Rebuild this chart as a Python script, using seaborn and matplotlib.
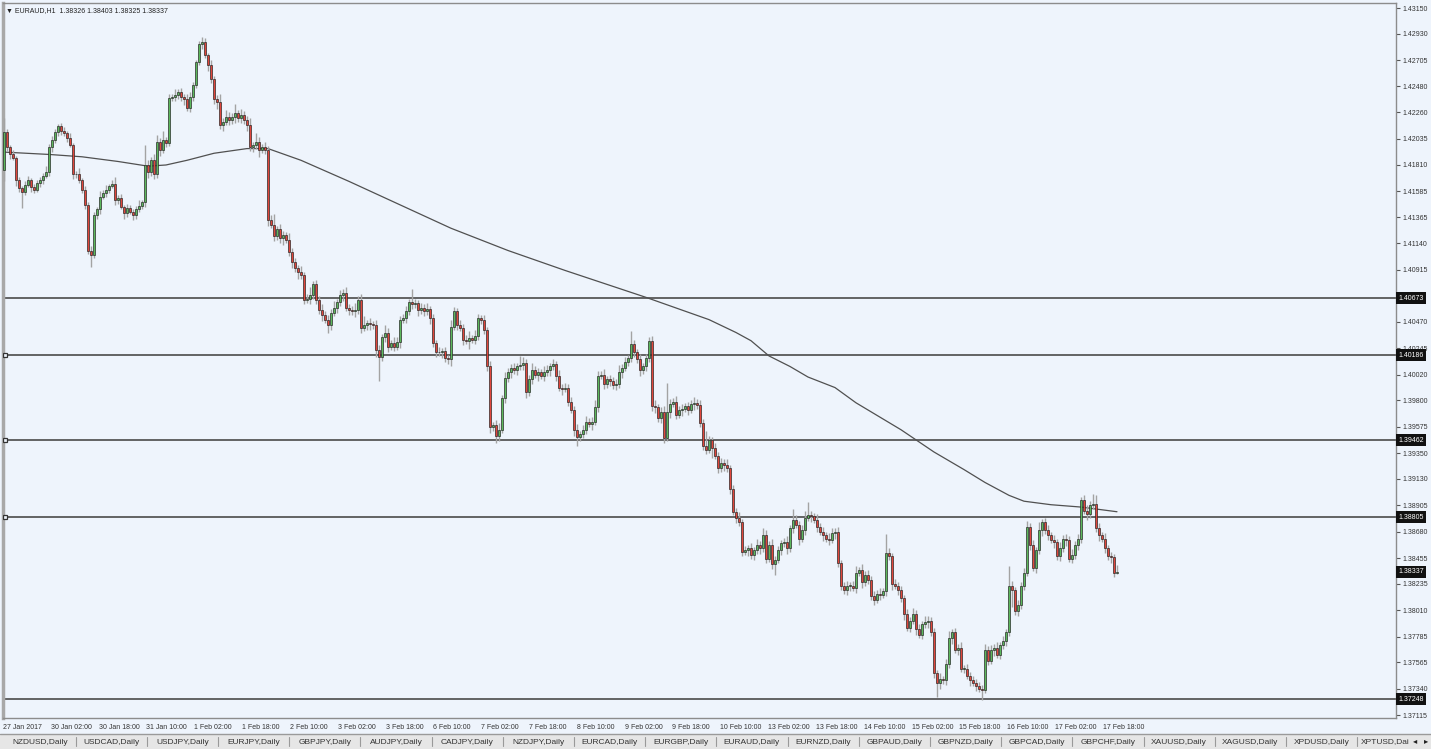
import matplotlib
matplotlib.use("Agg")
import matplotlib.pyplot as plt
import matplotlib.transforms as mtransforms
from matplotlib.patches import Rectangle
import numpy as np
import pandas as pd
import seaborn as sns

# ---- data (hourly EURAUD candles, prices in pips: 14209 -> 1.4209) ----
symbol = "EURAUD,H1"
last_ohlc = "1.38326 1.38403 1.38325 1.38337"
first_open = 14177

close_pips = [
    14209, 14196, 14190, 14187, 14168, 14161, 14158, 14164, 14168, 14162,
    14160, 14166, 14168, 14172, 14175, 14196, 14202, 14209, 14214, 14210,
    14208, 14204, 14198, 14173, 14173, 14168, 14160, 14147, 14108, 14104,
    14138, 14143, 14154, 14157, 14160, 14163, 14165, 14151, 14153, 14145,
    14140, 14144, 14141, 14138, 14143, 14146, 14149, 14181, 14175, 14185,
    14173, 14201, 14194, 14202, 14200, 14238, 14239, 14241, 14243, 14239,
    14237, 14230, 14239, 14249, 14269, 14284, 14286, 14275, 14266, 14254,
    14237, 14235, 14215, 14218, 14222, 14219, 14222, 14225, 14221, 14224,
    14219, 14215, 14196, 14198, 14201, 14194, 14196, 14194, 14134, 14130,
    14120, 14126, 14119, 14121, 14117, 14107, 14098, 14093, 14090, 14087,
    14066, 14067, 14070, 14079, 14066, 14057, 14053, 14049, 14044, 14055,
    14059, 14064, 14070, 14072, 14059, 14057, 14056, 14057, 14066, 14042,
    14044, 14046, 14045, 14044, 14023, 14017, 14034, 14038, 14026, 14029,
    14026, 14030, 14049, 14050, 14056, 14064, 14062, 14063, 14057, 14059,
    14056, 14058, 14050, 14029, 14021, 14021, 14022, 14016, 14015, 14043,
    14056, 14044, 14042, 14032, 14031, 14033, 14032, 14035, 14050, 14049,
    14040, 14009, 13957, 13959, 13950, 13955, 13982, 13999, 14004, 14008,
    14006, 14009, 14010, 14012, 13987, 13998, 14006, 14002, 14004, 14001,
    14004, 14006, 14009, 14011, 14001, 13991, 13990, 13991, 13979, 13972,
    13955, 13949, 13951, 13955, 13962, 13960, 13962, 13974, 14001, 14002,
    13994, 13998, 13997, 13993, 13994, 14004, 14008, 14013, 14016, 14028,
    14021, 14015, 14006, 14009, 14016, 14031, 13975, 13974, 13965, 13970,
    13948, 13970, 13977, 13979, 13968, 13972, 13973, 13975, 13972, 13977,
    13978, 13976, 13961, 13941, 13938, 13946, 13939, 13933, 13922, 13927,
    13925, 13922, 13904, 13885, 13880, 13876, 13851, 13852, 13854, 13848,
    13852, 13857, 13854, 13865, 13845, 13857, 13840, 13844, 13852, 13858,
    13859, 13854, 13871, 13878, 13874, 13862, 13869, 13880, 13882, 13881,
    13878, 13872, 13868, 13865, 13862, 13861, 13867, 13868, 13841, 13822,
    13818, 13822, 13822, 13820, 13833, 13835, 13825, 13831, 13827, 13813,
    13810, 13815, 13814, 13817, 13850, 13847, 13823, 13822, 13818, 13811,
    13798, 13786, 13792, 13798, 13785, 13780, 13789, 13791, 13792, 13782,
    13747, 13739, 13742, 13741, 13755, 13777, 13782, 13767, 13769, 13751,
    13751, 13745, 13741, 13739, 13736, 13734, 13733, 13767, 13758, 13767,
    13769, 13763, 13771, 13775, 13782, 13822, 13818, 13800, 13805, 13822,
    13833, 13872, 13857, 13837, 13852, 13869, 13876, 13869, 13865, 13861,
    13859, 13847, 13854, 13862, 13861, 13845, 13848, 13857, 13862, 13895,
    13886, 13883, 13891, 13892, 13871, 13865, 13862, 13854, 13847, 13846,
    13832.6, 13833.7,
]

upper_wick = [
    12, 3, 2, 4, 2, 3, 2, 3, 4, 2, 3, 2, 3, 2, 5, 3, 4, 3, 2, 3,
    3, 2, 4, 2, 3, 5, 2, 3, 2, 4, 3, 2, 5, 3, 4, 2, 3, 6, 2, 3,
    2, 4, 3, 2, 3, 5, 2, 17, 4, 3, 5, 6, 3, 8, 3, 4, 3, 5, 3, 4,
    3, 5, 4, 3, 2, 3, 4, 3, 2, 5, 3, 4, 7, 3, 6, 4, 3, 8, 3, 5,
    3, 4, 6, 3, 7, 4, 3, 5, 3, 4, 9, 3, 5, 4, 3, 6, 3, 4, 3, 5,
    3, 4, 7, 3, 4, 3, 5, 3, 4, 3, 6, 3, 4, 3, 5, 3, 4, 6, 3, 5,
    8, 3, 4, 3, 5, 4, 3, 6, 4, 3, 5, 4, 3, 4, 5, 3, 11, 4, 3, 4,
    3, 5, 3, 4, 3, 5, 3, 4, 3, 6, 4, 3, 5, 3, 4, 6, 3, 5, 4, 3,
    4, 3, 5, 3, 4, 6, 3, 5, 4, 3, 4, 3, 8, 5, 3, 4, 6, 3, 4, 3,
    5, 4, 3, 4, 3, 5, 3, 4, 3, 4, 3, 5, 3, 4, 5, 3, 4, 6, 4, 3,
    5, 3, 4, 3, 4, 6, 3, 4, 3, 11, 4, 3, 5, 3, 4, 3, 4, 5, 3, 4,
    5, 25, 4, 3, 5, 3, 4, 3, 4, 3, 5, 3, 4, 3, 13, 4, 3, 5, 3, 4,
    3, 5, 3, 4, 3, 5, 3, 4, 3, 4, 3, 5, 3, 6, 4, 3, 5, 3, 4, 3,
    4, 5, 3, 9, 4, 3, 5, 6, 11, 4, 3, 5, 3, 4, 3, 5, 4, 3, 4, 3,
    3, 4, 3, 4, 6, 3, 5, 3, 4, 3, 4, 3, 5, 3, 16, 4, 3, 5, 3, 4,
    3, 4, 3, 5, 3, 4, 3, 5, 4, 3, 4, 3, 5, 3, 4, 6, 3, 4, 3, 5,
    3, 4, 3, 4, 3, 4, 3, 5, 3, 4, 3, 5, 3, 4, 3, 17, 4, 3, 5, 3,
    4, 5, 3, 4, 3, 7, 3, 4, 5, 3, 4, 3, 5, 3, 4, 3, 5, 3, 4, 3,
    4, 5, 3, 8, 7, 4, 3, 5, 3, 4, 3, 6,
]

lower_wick = [
    10, 3, 4, 2, 5, 3, 14, 3, 2, 4, 3, 2, 4, 3, 2, 3, 4, 2, 3, 3,
    2, 3, 2, 4, 3, 2, 3, 4, 3, 10, 2, 3, 4, 2, 3, 3, 2, 4, 3, 2,
    5, 3, 2, 4, 3, 2, 3, 4, 5, 3, 4, 3, 5, 3, 4, 3, 2, 3, 4, 3,
    5, 3, 4, 3, 2, 3, 4, 3, 5, 3, 4, 6, 3, 5, 3, 4, 3, 5, 3, 4,
    3, 5, 3, 4, 3, 6, 3, 4, 5, 3, 4, 3, 5, 6, 3, 4, 5, 3, 6, 3,
    4, 3, 5, 3, 4, 3, 5, 3, 6, 4, 3, 4, 3, 5, 3, 4, 3, 5, 3, 4,
    3, 4, 5, 3, 6, 20, 3, 4, 5, 3, 4, 3, 5, 3, 4, 3, 4, 3, 5, 3,
    4, 3, 5, 3, 4, 3, 5, 3, 4, 6, 3, 4, 3, 5, 3, 7, 3, 4, 3, 4,
    3, 4, 5, 3, 6, 5, 3, 4, 3, 5, 3, 4, 3, 4, 5, 3, 4, 3, 5, 3,
    4, 3, 5, 3, 4, 3, 5, 3, 4, 3, 5, 8, 4, 3, 4, 3, 5, 3, 4, 3,
    4, 3, 5, 3, 4, 3, 5, 3, 4, 3, 4, 3, 5, 3, 4, 3, 4, 5, 3, 4,
    4, 3, 5, 3, 4, 3, 5, 3, 4, 3, 5, 3, 4, 3, 4, 3, 8, 3, 4, 3,
    5, 3, 4, 3, 5, 3, 4, 3, 5, 3, 4, 3, 5, 3, 4, 3, 4, 9, 3, 4,
    3, 5, 3, 4, 3, 5, 3, 4, 3, 5, 3, 4, 3, 5, 3, 4, 3, 5, 3, 4,
    3, 4, 5, 3, 4, 3, 5, 3, 4, 3, 5, 3, 4, 3, 4, 3, 5, 3, 4, 3,
    5, 3, 4, 3, 5, 3, 4, 3, 5, 3, 4, 12, 5, 3, 4, 3, 5, 3, 4, 3,
    4, 3, 5, 3, 4, 3, 9, 3, 4, 3, 5, 3, 4, 3, 5, 3, 14, 3, 4, 3,
    4, 3, 5, 3, 4, 3, 5, 3, 4, 3, 5, 3, 4, 3, 5, 3, 4, 3, 5, 4,
    3, 5, 3, 4, 3, 5, 3, 4, 3, 5, 3, 1,
]

# moving average, read at some bars
ma_bar = [0, 15, 26, 38, 48, 54, 61, 70, 81, 88, 99, 115, 132, 149, 168, 187,
          214, 235, 244, 249, 255, 262, 268, 277, 284, 299, 310, 320, 327, 335,
          340, 349, 359, 371]
ma_pips = [14192, 14190, 14188, 14184, 14180, 14181, 14185, 14191, 14195, 14195,
           14185, 14167, 14147, 14127, 14108, 14091, 14068, 14049, 14038, 14031,
           14018, 14009, 14000, 13991, 13978, 13955, 13936, 13921, 13910, 13899,
           13894, 13891, 13889, 13885]

level_prices = [1.40673, 1.40186, 1.39462, 1.38805, 1.37248]
level_marked = [False, True, True, True, False]
current_price = 1.38337

price_ticks = [1.43150, 1.42930, 1.42705, 1.42480, 1.42260, 1.42035, 1.41810,
               1.41585, 1.41365, 1.41140, 1.40915, 1.40470, 1.40245, 1.40020,
               1.39800, 1.39575, 1.39350, 1.39130, 1.38905, 1.38680, 1.38455,
               1.38235, 1.38010, 1.37785, 1.37565, 1.37340, 1.37115]

time_labels = ["27 Jan 2017", "30 Jan 02:00", "30 Jan 18:00", "31 Jan 10:00",
               "1 Feb 02:00", "1 Feb 18:00", "2 Feb 10:00", "3 Feb 02:00",
               "3 Feb 18:00", "6 Feb 10:00", "7 Feb 02:00", "7 Feb 18:00",
               "8 Feb 10:00", "9 Feb 02:00", "9 Feb 18:00", "10 Feb 10:00",
               "13 Feb 02:00", "13 Feb 18:00", "14 Feb 10:00", "15 Feb 02:00",
               "15 Feb 18:00", "16 Feb 10:00", "17 Feb 02:00", "17 Feb 18:00"]

tabs = ["NZDUSD,Daily", "USDCAD,Daily", "USDJPY,Daily", "EURJPY,Daily",
        "GBPJPY,Daily", "AUDJPY,Daily", "CADJPY,Daily", "NZDJPY,Daily",
        "EURCAD,Daily", "EURGBP,Daily", "EURAUD,Daily", "EURNZD,Daily",
        "GBPAUD,Daily", "GBPNZD,Daily", "GBPCAD,Daily", "GBPCHF,Daily",
        "XAUUSD,Daily", "XAGUSD,Daily", "XPDUSD,Daily", "XPTUSD,Dai"]

# ---- build candles ----
df = pd.DataFrame({"close": np.array(close_pips, dtype=float) / 10000})
df["open"] = np.r_[first_open, close_pips[:-1]] / 10000
df["high"] = df[["open", "close"]].max(axis=1) + np.array(upper_wick) / 10000
df["low"] = df[["open", "close"]].min(axis=1) - np.array(lower_wick) / 10000
df["bar"] = np.arange(len(df))
ma = pd.DataFrame({"bar": ma_bar, "price": np.array(ma_pips) / 10000})

BG = "#eef4fc"
W, H = 1431, 749
sns.set_style("white")
plt.rcParams["font.family"] = ["Liberation Sans", "DejaVu Sans"]

fig = plt.figure(figsize=(W / 100, H / 100), dpi=100, facecolor=BG)
ax = fig.add_axes([3 / W, 31 / H, 1393 / W, 715 / H], facecolor=BG)
ax.set_xlim(-0.33, 464)
ax.set_ylim(1.370894, 1.431927)

# horizontal levels
for p, marked in zip(level_prices, level_marked):
    ax.axhline(p, color="#4a4a4a", lw=1.2, zorder=1)
    if marked:
        ax.plot(0.4, p, marker="s", ms=3.5, mfc=BG, mec="#333333", mew=0.9, zorder=5)

# moving average
sns.lineplot(data=ma, x="bar", y="price", color="#505050", lw=0.9, ax=ax, zorder=2)

# candles
ax.vlines(df["bar"], df["low"], df["high"], color="#a3a3a3", lw=1, zorder=3)
up = df["close"] >= df["open"]
body = (df["close"] - df["open"]).abs().clip(lower=0.00002)
bottom = df[["open", "close"]].min(axis=1)
colors = np.where(up, "#5cb85c", "#e0463c")
ax.bar(df["bar"], body, bottom=bottom, width=0.72, color=colors,
       edgecolor="#1e1e1e", linewidth=0.45, zorder=4)

# axes cosmetics
for side in ["left", "right", "top", "bottom"]:
    ax.spines[side].set_color("#8c8c8c")
    ax.spines[side].set_linewidth(1)
ax.spines["left"].set_linewidth(2.5)
ax.spines["left"].set_color("#a8a8a8")

ax.yaxis.tick_right()
ax.set_yticks(price_ticks)
ax.set_yticklabels([f"{p:.5f}" for p in price_ticks])
ax.tick_params(axis="y", which="both", direction="out", length=3, width=0.8,
               colors="#555555", labelsize=5, labelcolor="#333333", pad=2)

tick_pos = [15.94 * k - 0.33 for k in range(len(time_labels))]
ax.set_xticks(tick_pos)
ax.set_xticklabels(time_labels, ha="left")
ax.tick_params(axis="x", direction="out", length=3, width=0.8, colors="#555555",
               labelsize=5, labelcolor="#333333", pad=1.5)
ax.set_xlabel("")
ax.set_ylabel("")

# price boxes on the right scale
trans = mtransforms.blended_transform_factory(ax.transAxes, ax.transData)
for p in level_prices + [current_price]:
    ax.text(1.0015, p, f"{p:.5f}", transform=trans, ha="left", va="center",
            fontsize=5, color="white", clip_on=False, zorder=10,
            bbox=dict(boxstyle="square,pad=0.35", fc="#111111", ec="none"))

# header
ax.text(0.002, 0.994, "\u25bc " + symbol + "  " + last_ohlc, transform=ax.transAxes,
        ha="left", va="top", fontsize=5, color="#222222")

# bottom tab bar
fig.patches.append(Rectangle((0, 0), 1, 15 / H, transform=fig.transFigure,
                             fc="#e6e6e6", ec="none", zorder=0))
fig.add_artist(plt.Line2D([0, 1], [15 / H, 15 / H], transform=fig.transFigure,
                          color="#9a9a9a", lw=1))
for k, t in enumerate(tabs):
    cx = 40 + 71.2 * k
    if k == len(tabs) - 1:
        cx = 1385
    fig.text(cx / W, 7 / H, t, ha="center", va="center", fontsize=6, color="#333333")
    sx = 40 + 71.2 * k + 35.6
    if k < len(tabs) - 1:
        fig.add_artist(plt.Line2D([sx / W, sx / W], [3 / H, 12 / H],
                                  transform=fig.transFigure, color="#9a9a9a", lw=0.8))
fig.text(1415 / W, 7 / H, "\u25c2", ha="center", va="center", fontsize=6, color="#222222")
fig.text(1426 / W, 7 / H, "\u25b8", ha="center", va="center", fontsize=6, color="#222222")

fig.savefig("out.png", dpi=100, facecolor=BG)
